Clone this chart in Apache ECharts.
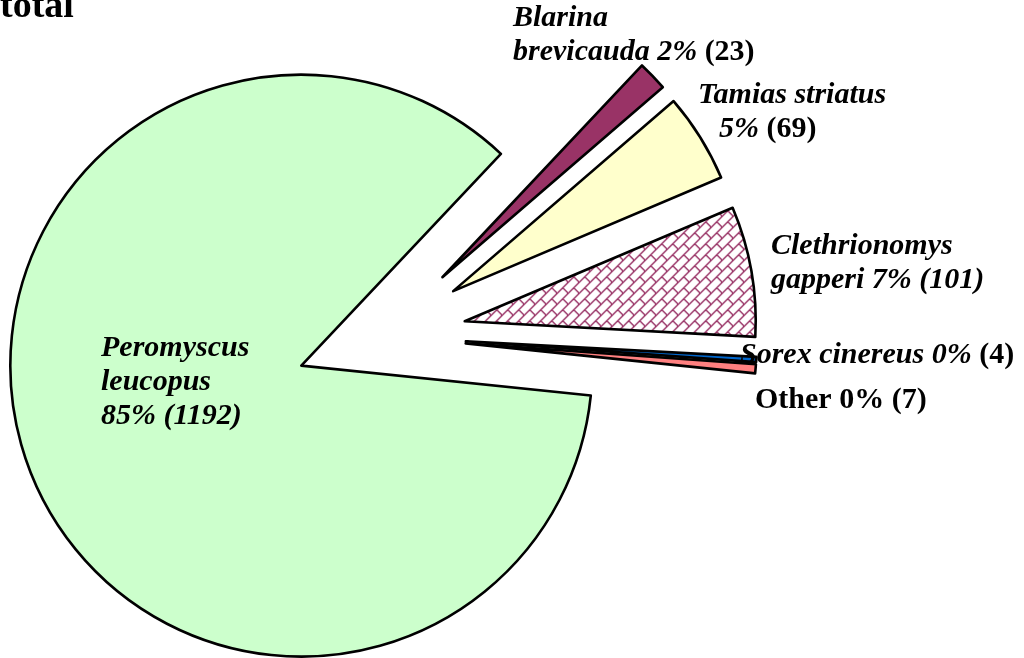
<!DOCTYPE html>
<html lang="en">
<head>
    <meta charset="UTF-8">
    <title>total</title>
    <script src="https://cdn.jsdelivr.net/npm/echarts@6/dist/echarts.min.js"></script>
    <style>
        html, body { margin: 0; padding: 0; background: #fff; }
    </style>
</head>
<body>
    <div id="main" style="width: 1024px;height: 658px"></div>
    <script type="text/javascript">
        // data (clockwise from the top of the small slices)
        var species = ['Blarina brevicauda', 'Tamias striatus', 'Clethrionomys gapperi', 'Sorex cinereus', 'Other', 'Peromyscus leucopus'];
        var counts = [23, 69, 101, 4, 7, 1192];
        var percents = ['2%', '5%', '7%', '0%', '0%', '85%'];

        // label text, split into italic / plain parts like the original
        var labelTexts = [
            '{i|Blarina}\n{i|brevicauda ' + percents[0] + ' }{n|(' + counts[0] + ')}',
            '{i|Tamias striatus}\n{s| }{i|' + percents[1] + ' }{n|(' + counts[1] + ')}',
            '{i|Clethrionomys}\n{i|gapperi ' + percents[2] + ' (' + counts[2] + ')}',
            '{i|Sorex cinereus ' + percents[3] + ' }{n|(' + counts[3] + ')}',
            '{n|Other ' + percents[4] + ' (' + counts[4] + ')}',
            '{i|Peromyscus}\n{i|leucopus}\n{i|' + percents[5] + ' (' + counts[5] + ')}'
        ];
        // where each label sits (left edge, middle of the block)
        var labelPos = [
            {x: 513, y: 35},
            {x: 698, y: 112},
            {x: 771, y: 263},
            {x: 740, y: 355},
            {x: 755, y: 400},
            {x: 101, y: 382}
        ];

        // diagonal brick pattern for Clethrionomys
        var N = 11;
        var tile = document.createElement('canvas');
        tile.width = N;
        tile.height = N;
        var ctx = tile.getContext('2d');
        ctx.fillStyle = '#ffffff';
        ctx.fillRect(0, 0, N, N);
        ctx.fillStyle = '#993366';
        for (var k = 0; k < N; k++) {
            ctx.fillRect(k, N - 1 - k, 1, 1);
            ctx.fillRect((k + 1) % N, N - 1 - k, 1, 1);
        }
        for (var k = 5; k < N; k++) {
            ctx.fillRect(k, k, 1, 1);
            ctx.fillRect((k + 1) % N, k, 1, 1);
        }

        var colors = ['#993366', '#FFFFCC', {image: tile, repeat: 'repeat'}, '#0066CC', '#FF8080', '#CCFFCC'];

        var richStyles = {
            i: {fontFamily: 'Liberation Serif', fontSize: 30, fontWeight: 'bold', fontStyle: 'italic', lineHeight: 34, fill: '#000'},
            n: {fontFamily: 'Liberation Serif', fontSize: 30, fontWeight: 'bold', lineHeight: 34, fill: '#000'},
            s: {fontFamily: 'Liberation Serif', fontSize: 30, width: 21, lineHeight: 34}
        };

        var seriesData = species.map(function (name, i) {
            return {
                name: name,
                value: counts[i],
                selected: true,
                itemStyle: {color: colors[i]}
            };
        });

        var labelGraphics = labelTexts.map(function (t, i) {
            var p = labelPos[i];
            return {
                type: 'text',
                z: 10,
                silent: true,
                style: {
                    x: p.x,
                    y: p.y,
                    text: t,
                    align: 'left',
                    verticalAlign: 'middle',
                    lineHeight: 34,
                    rich: richStyles
                }
            };
        });

        var myChart = echarts.init(document.getElementById('main'));
        var option = {
            backgroundColor: '#ffffff',
            animation: false,
            title: {
                text: 'total',
                left: 0,
                top: -12,
                padding: 0,
                textStyle: {
                    fontFamily: 'Liberation Serif',
                    fontWeight: 'bold',
                    fontSize: 38,
                    color: '#000'
                }
            },
            graphic: labelGraphics,
            series: [{
                type: 'pie',
                center: [381, 336],
                radius: 291,
                startAngle: 46.7,
                clockwise: true,
                selectedMode: 'multiple',
                selectedOffset: 85,
                emphasis: {disabled: true},
                itemStyle: {borderColor: '#000', borderWidth: 2.6},
                label: {show: false},
                labelLine: {show: false},
                data: seriesData
            }]
        };
        myChart.setOption(option);
    </script>
</body>
</html>
